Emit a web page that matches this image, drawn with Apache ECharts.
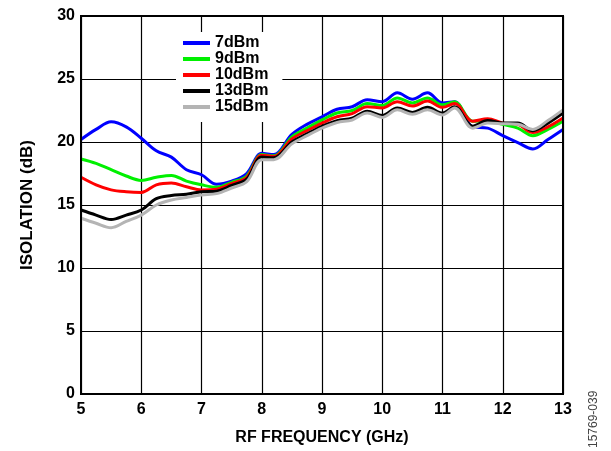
<!DOCTYPE html>
<html>
<head>
<meta charset="utf-8">
<script src="https://cdn.jsdelivr.net/npm/echarts@6/dist/echarts.min.js"></script>
<style>
html,body{margin:0;padding:0;background:#fff;}
#chart{width:611px;height:451px;}
</style>
</head>
<body>
<div id="chart"></div>
<script>
const freq = [5, 5.25, 5.5, 5.75, 6, 6.25, 6.5, 6.75, 7, 7.25, 7.5, 7.75, 8, 8.2, 8.5, 8.75, 9, 9.25, 9.5, 9.75, 10, 10.25, 10.5, 10.75, 11, 11.2, 11.5, 11.75, 12, 12.25, 12.5, 12.75, 13];
const seriesNames = ['7dBm', '9dBm', '10dBm', '13dBm', '15dBm'];
const iso7 = [20.2, 21.0, 21.6, 21.2, 20.3, 19.3, 18.8, 17.8, 17.4, 16.65, 16.9, 17.5, 19.1, 19.0, 20.6, 21.4, 22.0, 22.6, 22.8, 23.35, 23.2, 23.9, 23.4, 23.9, 23.1, 23.2, 21.2, 21.1, 20.5, 19.95, 19.45, 20.2, 21.0];
const iso9 = [18.65, 18.3, 17.8, 17.3, 16.95, 17.2, 17.35, 16.9, 16.6, 16.4, 16.8, 17.3, 19.0, 18.9, 20.4, 21.1, 21.75, 22.3, 22.5, 23.05, 22.9, 23.5, 23.1, 23.5, 22.95, 23.2, 21.65, 21.7, 21.4, 21.1, 20.5, 21.0, 21.65];
const iso10 = [17.2, 16.6, 16.2, 16.05, 16.0, 16.6, 16.75, 16.45, 16.2, 16.25, 16.7, 17.2, 18.95, 18.85, 20.25, 20.9, 21.5, 22.0, 22.25, 22.8, 22.7, 23.2, 22.85, 23.25, 22.75, 23.05, 21.65, 21.85, 21.5, 21.4, 20.75, 21.2, 21.9];
const iso13 = [14.6, 14.2, 13.85, 14.2, 14.6, 15.5, 15.75, 15.85, 16.05, 16.1, 16.55, 17.05, 18.8, 18.75, 20.0, 20.65, 21.25, 21.7, 21.9, 22.45, 22.1, 22.7, 22.35, 22.75, 22.3, 22.8, 21.25, 21.7, 21.5, 21.5, 20.9, 21.5, 22.3];
const iso15 = [13.95, 13.55, 13.2, 13.7, 14.2, 15.0, 15.4, 15.6, 15.8, 15.9, 16.35, 16.85, 18.6, 18.6, 19.85, 20.5, 21.1, 21.55, 21.75, 22.3, 21.95, 22.55, 22.2, 22.55, 22.15, 22.7, 21.1, 21.5, 21.45, 21.4, 21.0, 21.7, 22.55];
const xTicks = [5, 6, 7, 8, 9, 10, 11, 12, 13];
const yTicks = [0, 5, 10, 15, 20, 25, 30];

const values = [iso7, iso9, iso10, iso13, iso15];
const colors = ['#0000ff', '#00f000', '#ff0000', '#000000', '#b4b4b4'];
const FONT = '"Liberation Sans", Arial, Helvetica, sans-serif';

const chart = echarts.init(document.getElementById('chart'), null, {renderer: 'canvas'});
const series = seriesNames.map((name, i) => ({
  name: name,
  type: 'line',
  data: freq.map((f, j) => [f, values[i][j]]),
  smooth: 0.35,
  showSymbol: false,
  symbol: 'none',
  lineStyle: {color: colors[i], width: 3},
  itemStyle: {color: colors[i]},
  z: 2 + i
}));

chart.setOption({
  animation: false,
  backgroundColor: '#ffffff',
  grid: {left: 81, top: 16, right: 48, bottom: 50, show: true, borderColor: '#000', borderWidth: 2, backgroundColor: 'transparent', z: 10},
  legend: {
    orient: 'vertical',
    left: 176, top: 32,
    padding: [3, 14, 7, 7],
    backgroundColor: '#ffffff',
    itemGap: 0,
    itemWidth: 27,
    itemHeight: 4,
    icon: 'rect',
    data: seriesNames,
    textStyle: {fontFamily: FONT, fontWeight: 'bold', fontSize: 16, lineHeight: 16, color: '#000'}
  },
  xAxis: {
    type: 'value', min: xTicks[0], max: xTicks[xTicks.length - 1], interval: 1,
    name: 'RF FREQUENCY (GHz)', nameLocation: 'middle', nameGap: 36,
    nameTextStyle: {fontFamily: FONT, fontWeight: 'bold', fontSize: 16, color: '#000'},
    axisLine: {show: false},
    axisTick: {show: false},
    axisLabel: {fontFamily: FONT, fontWeight: 'bold', fontSize: 16, color: '#000', margin: 8},
    splitLine: {show: true, lineStyle: {color: '#000', width: 1.2}}
  },
  yAxis: {
    type: 'value', min: yTicks[0], max: yTicks[yTicks.length - 1], interval: 5,
    name: 'ISOLATION (dB)', nameLocation: 'middle', nameGap: 45, nameRotate: 90,
    nameTextStyle: {fontFamily: FONT, fontWeight: 'bold', fontSize: 17, color: '#000'},
    axisLine: {show: false},
    axisTick: {show: false},
    axisLabel: {fontFamily: FONT, fontWeight: 'bold', fontSize: 16, color: '#000', margin: 6},
    splitLine: {show: true, lineStyle: {color: '#000', width: 1.2}}
  },
  graphic: [{
    type: 'text',
    x: 588, y: 448,
    rotation: Math.PI / 2,
    style: {text: '15769-039', fontFamily: FONT, fontSize: 12, fill: '#444', textVerticalAlign: 'top'}
  }],
  series: series
});
</script>
</body>
</html>
